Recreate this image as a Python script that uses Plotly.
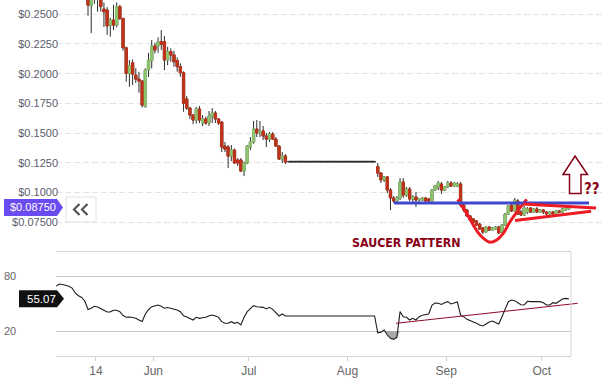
import plotly.graph_objects as go
import pandas as pd

# ---------------- data ----------------
dates = pd.date_range("2019-05-01 12:00", periods=162, freq="D")

open_ = [
    0.2850, 0.2900, 0.2960, 0.3020, 0.2980, 0.2920, 0.2950, 0.2880, 0.2820, 0.2760,
    0.2700, 0.2572, 0.2680, 0.2650, 0.2700, 0.2544, 0.2535, 0.2409, 0.2451, 0.2409,
    0.2564, 0.2465, 0.2218, 0.2003, 0.2092, 0.1989, 0.1955, 0.1938, 0.1722, 0.2031,
    0.2109, 0.2233, 0.2233, 0.2269, 0.2269, 0.2115, 0.2185, 0.2157, 0.2109, 0.2059,
    0.2008, 0.1787, 0.1711, 0.1652, 0.1610, 0.1703, 0.1585, 0.1619, 0.1585, 0.1644,
    0.1669, 0.1619, 0.1593, 0.1391, 0.1383, 0.1307, 0.1358, 0.1274, 0.1274, 0.1181,
    0.1249, 0.1383, 0.1425, 0.1534, 0.1501, 0.1518, 0.1476, 0.1450, 0.1492, 0.1450,
    0.1391, 0.1282, 0.1307,
    0.1260, 0.1260, 0.1260, 0.1260, 0.1260, 0.1260, 0.1260, 0.1260, 0.1260, 0.1260,
    0.1260, 0.1260, 0.1260, 0.1260, 0.1260, 0.1260, 0.1260, 0.1260, 0.1260, 0.1260,
    0.1260, 0.1260, 0.1260, 0.1260, 0.1260, 0.1260, 0.1260, 0.1260,
    0.1218, 0.1164, 0.1106, 0.1131, 0.1021, 0.0954, 0.0929, 0.0954, 0.1089, 0.0979,
    0.1030, 0.0946, 0.0963, 0.0937, 0.0937, 0.0954, 0.0946, 0.0929, 0.1021, 0.1047,
    0.1072, 0.1021, 0.1047, 0.1080, 0.1055, 0.1055, 0.1072, 0.0895, 0.0853, 0.0803,
    0.0778, 0.0761, 0.0735, 0.0702, 0.0668, 0.0710, 0.0685, 0.0693, 0.0710, 0.0668,
    0.0727, 0.0820, 0.0895, 0.0845, 0.0929, 0.0836, 0.0811, 0.0836, 0.0870, 0.0836,
    0.0862, 0.0836, 0.0853, 0.0836, 0.0820, 0.0836, 0.0820, 0.0845, 0.0836, 0.0853,
    0.0862,
]
high = [
    0.2930, 0.3000, 0.3060, 0.3080, 0.3000, 0.2990, 0.2970, 0.2910, 0.2850, 0.2790,
    0.2740, 0.2750, 0.2760, 0.2740, 0.2720, 0.2600, 0.2560, 0.2470, 0.2580, 0.2600,
    0.2580, 0.2470, 0.2227, 0.2115, 0.2120, 0.2047, 0.2016, 0.1945, 0.2045, 0.2176,
    0.2283, 0.2260, 0.2306, 0.2367, 0.2316, 0.2227, 0.2213, 0.2193, 0.2137, 0.2087,
    0.2020, 0.1812, 0.1720, 0.1660, 0.1720, 0.1728, 0.1652, 0.1640, 0.1686, 0.1711,
    0.1686, 0.1627, 0.1600, 0.1425, 0.1400, 0.1400, 0.1370, 0.1290, 0.1290, 0.1260,
    0.1400, 0.1467, 0.1602, 0.1610, 0.1602, 0.1560, 0.1501, 0.1510, 0.1509, 0.1467,
    0.1400, 0.1341, 0.1324,
    0.1260, 0.1260, 0.1260, 0.1260, 0.1260, 0.1260, 0.1260, 0.1260, 0.1260, 0.1260,
    0.1260, 0.1260, 0.1260, 0.1260, 0.1260, 0.1260, 0.1260, 0.1260, 0.1260, 0.1260,
    0.1260, 0.1260, 0.1260, 0.1260, 0.1260, 0.1260, 0.1260, 0.1260,
    0.1248, 0.1173, 0.1139, 0.1139, 0.1038, 0.0971, 0.0971, 0.1122, 0.1122, 0.1047,
    0.1047, 0.0979, 0.1005, 0.0954, 0.0963, 0.0963, 0.0954, 0.1030, 0.1063, 0.1097,
    0.1089, 0.1055, 0.1097, 0.1097, 0.1089, 0.1089, 0.1089, 0.0904, 0.0862, 0.0811,
    0.0786, 0.0769, 0.0744, 0.0710, 0.0719, 0.0719, 0.0710, 0.0719, 0.0719, 0.0735,
    0.0828, 0.0895, 0.0912, 0.0954, 0.0946, 0.0853, 0.0887, 0.0878, 0.0878, 0.0870,
    0.0878, 0.0862, 0.0862, 0.0845, 0.0845, 0.0845, 0.0853, 0.0853, 0.0870, 0.0878,
    0.0887,
]
low = [
    0.2800, 0.2870, 0.2930, 0.2950, 0.2890, 0.2880, 0.2850, 0.2790, 0.2730, 0.2680,
    0.2488, 0.2342, 0.2587, 0.2521, 0.2522, 0.2393, 0.2325, 0.2311, 0.2367, 0.2390,
    0.2451, 0.2193, 0.1932, 0.1890, 0.1904, 0.1921, 0.1840, 0.1717, 0.1717, 0.1972,
    0.2045, 0.2171, 0.2176, 0.2200, 0.2031, 0.2073, 0.2100, 0.2059, 0.2017, 0.1975,
    0.1680, 0.1694, 0.1618, 0.1576, 0.1580, 0.1585, 0.1560, 0.1570, 0.1560, 0.1585,
    0.1585, 0.1568, 0.1341, 0.1341, 0.1206, 0.1265, 0.1240, 0.1223, 0.1175, 0.1139,
    0.1240, 0.1358, 0.1410, 0.1467, 0.1467, 0.1442, 0.1383, 0.1425, 0.1442, 0.1383,
    0.1274, 0.1249, 0.1240,
    0.1260, 0.1260, 0.1260, 0.1260, 0.1260, 0.1260, 0.1260, 0.1260, 0.1260, 0.1260,
    0.1260, 0.1260, 0.1260, 0.1260, 0.1260, 0.1260, 0.1260, 0.1260, 0.1260, 0.1260,
    0.1260, 0.1260, 0.1260, 0.1260, 0.1260, 0.1260, 0.1260, 0.1260,
    0.1131, 0.1080, 0.1089, 0.0996, 0.0853, 0.0912, 0.0912, 0.0937, 0.0954, 0.0963,
    0.0929, 0.0921, 0.0878, 0.0921, 0.0929, 0.0921, 0.0912, 0.0921, 0.1013, 0.1021,
    0.0988, 0.1013, 0.1038, 0.1047, 0.1047, 0.1047, 0.0878, 0.0836, 0.0794, 0.0761,
    0.0744, 0.0719, 0.0685, 0.0651, 0.0660, 0.0677, 0.0677, 0.0685, 0.0651, 0.0660,
    0.0719, 0.0811, 0.0836, 0.0836, 0.0811, 0.0803, 0.0803, 0.0820, 0.0828, 0.0828,
    0.0828, 0.0828, 0.0820, 0.0811, 0.0811, 0.0811, 0.0811, 0.0828, 0.0828, 0.0845,
    0.0853,
]
close = [
    0.2900, 0.2960, 0.3020, 0.2980, 0.2920, 0.2950, 0.2880, 0.2820, 0.2760, 0.2700,
    0.2577, 0.2680, 0.2650, 0.2700, 0.2564, 0.2521, 0.2403, 0.2451, 0.2409, 0.2564,
    0.2465, 0.2218, 0.2003, 0.2067, 0.1997, 0.1955, 0.1938, 0.1736, 0.2031, 0.2115,
    0.2233, 0.2199, 0.2269, 0.2247, 0.2115, 0.2185, 0.2157, 0.2100, 0.2059, 0.2008,
    0.1751, 0.1711, 0.1652, 0.1610, 0.1703, 0.1610, 0.1619, 0.1585, 0.1644, 0.1669,
    0.1619, 0.1585, 0.1383, 0.1366, 0.1307, 0.1358, 0.1249, 0.1249, 0.1181, 0.1249,
    0.1391, 0.1425, 0.1534, 0.1501, 0.1518, 0.1476, 0.1450, 0.1492, 0.1450, 0.1391,
    0.1282, 0.1307, 0.1257,
    0.1260, 0.1260, 0.1260, 0.1260, 0.1260, 0.1260, 0.1260, 0.1260, 0.1260, 0.1260,
    0.1260, 0.1260, 0.1260, 0.1260, 0.1260, 0.1260, 0.1260, 0.1260, 0.1260, 0.1260,
    0.1260, 0.1260, 0.1260, 0.1260, 0.1260, 0.1260, 0.1260, 0.1260,
    0.1164, 0.1106, 0.1131, 0.1021, 0.0954, 0.0929, 0.0954, 0.1089, 0.0979, 0.1030,
    0.0946, 0.0963, 0.0937, 0.0946, 0.0954, 0.0929, 0.0929, 0.1021, 0.1055, 0.1080,
    0.1021, 0.1047, 0.1080, 0.1055, 0.1080, 0.1072, 0.0895, 0.0853, 0.0803, 0.0769,
    0.0752, 0.0727, 0.0693, 0.0668, 0.0710, 0.0685, 0.0702, 0.0710, 0.0660, 0.0727,
    0.0820, 0.0887, 0.0845, 0.0937, 0.0820, 0.0811, 0.0870, 0.0862, 0.0836, 0.0862,
    0.0836, 0.0853, 0.0836, 0.0820, 0.0836, 0.0820, 0.0845, 0.0836, 0.0862, 0.0870,
    0.0875,
]
rsi = [
    69.1, 71.3, 70.8, 70.2, 68.8, 66.8, 61.5, 58.5, 56.6, 52.5,
    43.5, 44.9, 47.0, 46.1, 44.0, 42.6, 40.8, 40.9, 42.6, 42.6,
    41.0, 36.8, 35.0, 35.3, 34.7, 34.0, 32.0, 30.4, 38.5, 43.2,
    46.5,
    47.8, 48.3, 47.0, 44.9, 45.6, 45.0, 44.4, 43.0, 41.1, 36.5,
    35.2, 33.4, 32.0, 35.0, 33.8,
    34.5, 34.9, 36.7, 37.5, 36.4, 34.9, 30.2, 28.4, 28.4, 30.2,
    28.4, 29.5, 26.6, 34.9, 41.1, 44.0, 47.6, 46.5, 46.5, 45.8,
    44.0, 45.8, 43.6, 40.0, 36.4, 38.6, 36.4,
    36.4, 36.4, 36.4, 36.4, 36.4, 36.4, 36.4, 36.4, 36.4, 36.4,
    36.4, 36.4, 36.4, 36.4, 36.4, 36.4, 36.4, 36.4, 36.4, 36.4,
    36.4, 36.4, 36.4, 36.4, 36.4, 36.4, 36.4, 36.4,
    18.0, 18.6, 21.1, 15.6, 12.0, 10.9, 13.1, 41.1, 35.6, 35.0,
    32.0, 33.8, 32.0, 35.6, 37.1, 37.5, 38.5, 48.0, 50.5, 50.2,
    49.0, 50.9, 52.0, 49.5, 50.2, 51.6, 37.5, 35.6, 32.7, 31.3,
    30.2, 28.4, 26.5, 25.5, 27.6, 29.8, 30.9, 29.1, 27.6, 35.6,
    43.6, 52.0, 53.8, 53.1, 50.9, 48.7, 48.4, 52.4, 52.0, 52.0,
    52.0, 52.0, 50.9, 48.4, 48.4, 50.9, 50.2, 52.7, 54.9, 55.6,
    55.07,
]

price_ticks = [0.075, 0.100, 0.125, 0.150, 0.175, 0.200, 0.225, 0.250]
price_tick_text = ["$0.07500", "$0.1000", "$0.1250", "$0.1500", "$0.1750",
                   "$0.2000", "$0.2250", "$0.2500"]
x_ticks = ["2019-05-14", "2019-06-01", "2019-07-01", "2019-08-01", "2019-09-01", "2019-10-01"]
x_tick_text = ["14", "Jun", "Jul", "Aug", "Sep", "Oct"]
rsi_levels = [20, 80]

# hand-drawn analysis (saucer, resistance, wedge, RSI trend)
saucer_x = ["2019-09-04 14:24", "2019-09-07 10:19", "2019-09-09 12:00", "2019-09-11 14:38",
            "2019-09-14 18:00", "2019-09-16 20:24", "2019-09-18 22:05", "2019-09-21 00:43",
            "2019-09-23 15:22", "2019-09-26 06:29"]
saucer_y = [0.0943, 0.0825, 0.0727, 0.0643, 0.0582, 0.0601, 0.0657, 0.0755, 0.0853, 0.0943]
resistance_x = ["2019-08-15 14:24", "2019-10-15 20:24"]
resistance_y = 0.0912
wedge_upper_x = ["2019-09-25 02:38", "2019-10-18 01:00"]
wedge_upper_y = [0.0904, 0.0870]
wedge_lower_x = ["2019-09-22 14:24", "2019-10-16 12:00"]
wedge_lower_y = [0.0765, 0.0842]
rsi_trend_start = ("2019-08-16 05:31", 28.4)
rsi_trend_end_val = 50.2

# ---------------- geometry ----------------
W, H = 610, 391
ML, MR, MT, MB = 56, 5, 0, 35
PW = W - ML - MR
PH = H - MT - MB


def px(x):
    return (x - ML) / PW


def py(y):
    return (PH + MT - y) / PH


split = py(252)
x_left = "2019-05-01 10:34"
x_right_price = "2019-10-20 20:53"
x_right_rsi = "2019-10-10 04:34"
price_range = [0.050, 0.262]
rsi_range = [-7.27, 106.18]

RED = "#c0321a"
GREEN = "#8ec46f"
WICK = "#2e2e2e"
PAINT_RED = "#ed1c24"
PAINT_BLUE = "#3f48cc"
PAINT_DARK = "#880015"

fig = go.Figure()

# wicks
fig.add_trace(go.Candlestick(
    x=dates, open=open_, high=high, low=low, close=close,
    increasing=dict(line=dict(color=WICK, width=1), fillcolor="rgba(0,0,0,0)"),
    decreasing=dict(line=dict(color=WICK, width=1), fillcolor="rgba(0,0,0,0)"),
    whiskerwidth=0, xaxis="x", yaxis="y", hoverinfo="skip", showlegend=False))

# flat (no-trade) stretch drawn as a continuous dark line
flat = [h == l for h, l in zip(high, low)]
flat_y = [c if f else None for c, f in zip(close, flat)]
fig.add_trace(go.Scatter(x=dates, y=flat_y, mode="lines", line=dict(color=WICK, width=1.6),
                         connectgaps=False, xaxis="x", yaxis="y", hoverinfo="skip",
                         showlegend=False))

# coloured bodies
b_open = [None if f else o for o, f in zip(open_, flat)]
b_close = [None if f else c for c, f in zip(close, flat)]
b_hi = [None if f else max(o, c) for o, c, f in zip(open_, close, flat)]
b_lo = [None if f else min(o, c) for o, c, f in zip(open_, close, flat)]
fig.add_trace(go.Candlestick(
    x=dates, open=b_open, high=b_hi, low=b_lo, close=b_close,
    increasing=dict(line=dict(color=GREEN, width=1), fillcolor=GREEN),
    decreasing=dict(line=dict(color=RED, width=1), fillcolor=RED),
    whiskerwidth=0, xaxis="x", yaxis="y", hoverinfo="skip", showlegend=False))

# saucer curve
fig.add_trace(go.Scatter(x=saucer_x, y=saucer_y, mode="lines",
                         line=dict(color=PAINT_RED, width=3, shape="spline", smoothing=1.0),
                         xaxis="x", yaxis="y", hoverinfo="skip", showlegend=False))

# RSI oversold fill
base = [rsi_levels[0]] * len(rsi)
under = [min(v, rsi_levels[0]) for v in rsi]
fig.add_trace(go.Scatter(x=dates, y=base, mode="lines", line=dict(width=0),
                         xaxis="x2", yaxis="y2", hoverinfo="skip", showlegend=False))
fig.add_trace(go.Scatter(x=dates, y=under, mode="lines", line=dict(width=0),
                         fill="tonexty", fillcolor="#a9a9a9",
                         xaxis="x2", yaxis="y2", hoverinfo="skip", showlegend=False))
fig.add_trace(go.Scatter(x=dates, y=rsi, mode="lines", line=dict(color="#1e1e1e", width=1.1),
                         xaxis="x2", yaxis="y2", hoverinfo="skip", showlegend=False))

shapes = []
# resistance
shapes.append(dict(type="line", xref="x", yref="y", x0=resistance_x[0], x1=resistance_x[1],
                   y0=resistance_y, y1=resistance_y, line=dict(color=PAINT_BLUE, width=3)))
# wedge
shapes.append(dict(type="line", xref="x", yref="y", x0=wedge_upper_x[0], x1=wedge_upper_x[1],
                   y0=wedge_upper_y[0], y1=wedge_upper_y[1], line=dict(color=PAINT_RED, width=3)))
shapes.append(dict(type="line", xref="x", yref="y", x0=wedge_lower_x[0], x1=wedge_lower_x[1],
                   y0=wedge_lower_y[0], y1=wedge_lower_y[1], line=dict(color=PAINT_RED, width=3)))
# RSI trend line (runs slightly past the panel)
shapes.append(dict(type="line", xref="paper", yref="y2", x0=px(396), x1=px(577.7),
                   y0=rsi_trend_start[1], y1=rsi_trend_end_val,
                   line=dict(color="#8b0a26", width=1)))
# RSI panel right border
shapes.append(dict(type="line", xref="paper", yref="paper", x0=px(571), x1=px(571),
                   y0=0, y1=split, line=dict(color="#d4d4d4", width=1)))

# up arrow (outlined)
arrow = [(575, 156), (587.5, 174.5), (581, 174.5), (581, 193.5), (569.5, 193.5),
         (569.5, 174.5), (563, 174.5)]
path = "M " + " L ".join(f"{px(a):.5f},{py(b):.5f}" for a, b in arrow) + " Z"
shapes.append(dict(type="path", xref="paper", yref="paper", path=path,
                   fillcolor="white", line=dict(color=PAINT_DARK, width=1.5)))

# price tag
pp = (price_range[1] - price_range[0]) / 252.0
last_p = close[-1]
tag = [(4, last_p + 8.5 * pp), (57, last_p + 8.5 * pp), (63, last_p),
       (57, last_p - 8.5 * pp), (4, last_p - 8.5 * pp)]
path = "M " + " L ".join(f"{px(a):.5f},{b:.6f}" for a, b in tag) + " Z"
shapes.append(dict(type="path", xref="paper", yref="y", path=path,
                   fillcolor="#6a4bef", line=dict(width=0)))

# RSI tag
rp = (rsi_range[1] - rsi_range[0]) / 104.0
last_r = rsi[-1]
tag = [(19, last_r + 8.5 * rp), (57, last_r + 8.5 * rp), (64, last_r),
       (57, last_r - 8.5 * rp), (19, last_r - 8.5 * rp)]
path = "M " + " L ".join(f"{px(a):.5f},{b:.4f}" for a, b in tag) + " Z"
shapes.append(dict(type="path", xref="paper", yref="y2", path=path,
                   fillcolor="#111111", line=dict(width=0)))

# "<<" button
shapes.append(dict(type="rect", xref="paper", yref="paper", x0=px(66), x1=px(96),
                   y0=py(222), y1=py(197), fillcolor="white",
                   line=dict(color="#e2e2e2", width=1)))
for off in (0, 8):
    pts = [(79.5 + off, 204), (74 + off, 209.5), (79.5 + off, 215)]
    path = "M " + " L ".join(f"{px(a):.5f},{py(b):.5f}" for a, b in pts)
    shapes.append(dict(type="path", xref="paper", yref="paper", path=path,
                       line=dict(color="#555555", width=2.2)))

annotations = [
    dict(xref="paper", yref="y", x=px(32.5), y=last_p, text=f"${last_p:.5f}",
         showarrow=False, font=dict(family="Liberation Sans, Arial, sans-serif",
                                    size=11, color="white"), xanchor="center", yanchor="middle"),
    dict(xref="paper", yref="y2", x=px(41.5), y=last_r, text=f"{last_r:.2f}",
         showarrow=False, font=dict(family="Liberation Sans, Arial, sans-serif",
                                    size=11.5, color="white"), xanchor="center", yanchor="middle"),
    dict(xref="paper", yref="paper", x=px(406), y=py(243), text="<b>SAUCER PATTERN</b>",
         showarrow=False, font=dict(family="Liberation Sans Narrow, DejaVu Sans Condensed, sans-serif",
                                    size=12.3, color=PAINT_DARK), xanchor="center", yanchor="middle"),
    dict(xref="paper", yref="paper", x=px(591.5), y=py(189), text="<b>??</b>",
         showarrow=False, font=dict(family="Liberation Sans Narrow, DejaVu Sans Condensed, sans-serif",
                                    size=15, color=PAINT_DARK), xanchor="center", yanchor="middle"),
]
for lv in rsi_levels:
    annotations.append(dict(xref="paper", yref="y2", x=px(2), y=lv, text=str(lv),
                            showarrow=False, xanchor="left", yanchor="middle",
                            font=dict(family="Liberation Sans, Arial, sans-serif", size=11,
                                      color="#666666")))

fig.update_layout(
    width=W, height=H, margin=dict(l=ML, r=MR, t=MT, b=MB),
    paper_bgcolor="white", plot_bgcolor="white",
    showlegend=False, hovermode=False,
    boxmode="overlay", boxgap=0.3, boxgroupgap=0,
    xaxis=dict(domain=[0, 1], anchor="y", range=[x_left, x_right_price], type="date",
               showticklabels=False, showgrid=False, zeroline=False, showline=False,
               ticks="", rangeslider=dict(visible=False), fixedrange=True),
    yaxis=dict(domain=[split, 1], anchor="x", range=price_range,
               tickvals=price_ticks, ticktext=price_tick_text, ticklabelstandoff=-3,
               showgrid=True, gridcolor="#e4e4e4", gridwidth=1, griddash="6px,3px",
               zeroline=False, showline=False, ticks="",
               tickfont=dict(family="Liberation Sans, Arial, sans-serif", size=11, color="#5c5c6c")),
    xaxis2=dict(domain=[0, px(571)], anchor="y2", range=[x_left, x_right_rsi], type="date",
                tickvals=x_ticks, ticktext=x_tick_text, ticks="outside", ticklen=4,
                tickcolor="#cfcfcf", showline=True, linecolor="#d4d4d4", mirror=True,
                showgrid=False, zeroline=False, rangeslider=dict(visible=False),
                tickfont=dict(family="Liberation Sans, Arial, sans-serif", size=12, color="#666666")),
    yaxis2=dict(domain=[0, split], anchor="x2", range=rsi_range, tickvals=rsi_levels,
                showticklabels=False, showgrid=True, gridcolor="#cccccc", gridwidth=1,
                zeroline=False, showline=False, ticks=""),
    shapes=shapes, annotations=annotations,
)

fig.write_html("out.html", config={"displayModeBar": False},
               post_script="document.body.style.margin='0px';document.body.style.padding='0px';")
